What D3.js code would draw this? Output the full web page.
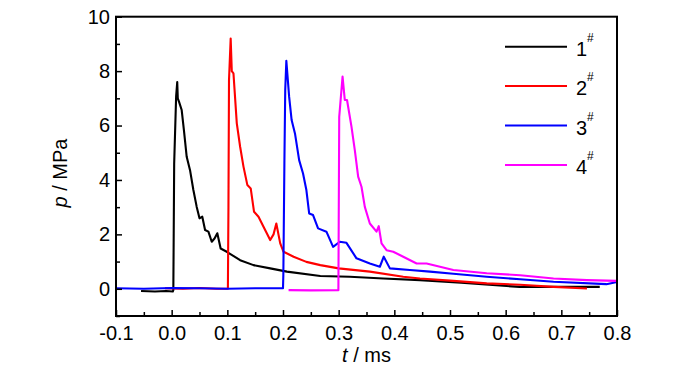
<!DOCTYPE html>
<html>
<head>
<meta charset="utf-8">
<script src="https://cdn.jsdelivr.net/npm/d3@7"></script>
<style>
  body { margin: 0; background: #fff; }
  text { font-family: "Liberation Sans", Arial, sans-serif; fill: #000; }
</style>
</head>
<body>
<div id="chart"></div>
<script>
// data (t in ms, p in MPa)
let t1 = [-0.055, -0.03, -0.01, 0.002, 0.003, 0.0045, 0.008, 0.010, 0.011, 0.0133, 0.018, 0.022, 0.027, 0.033, 0.039, 0.045, 0.050, 0.055, 0.060, 0.066, 0.072, 0.077, 0.082, 0.088, 0.099, 0.123, 0.147, 0.177, 0.207, 0.267, 0.32, 0.38, 0.446, 0.52, 0.625, 0.7, 0.769];
let p1 = [-0.08, -0.1, -0.08, -0.1, -0.05, 4.6, 7.06, 7.6, 7.0, 6.87, 6.57, 5.83, 4.85, 4.36, 3.63, 3.01, 2.59, 2.65, 2.16, 2.1, 1.73, 1.85, 2.04, 1.48, 1.36, 1.05, 0.87, 0.75, 0.63, 0.47, 0.44, 0.38, 0.32, 0.22, 0.07, 0.07, 0.07];

let t2 = [-0.012, 0.02, 0.05, 0.08, 0.101, 0.102, 0.103, 0.106, 0.108, 0.111, 0.117, 0.123, 0.129, 0.136, 0.142, 0.148, 0.156, 0.165, 0.177, 0.183, 0.188, 0.195, 0.201, 0.219, 0.242, 0.267, 0.3, 0.356, 0.416, 0.446, 0.5, 0.566, 0.626, 0.686, 0.746];
let p2 = [0.02, 0, 0.03, 0, 0, 3.0, 7.67, 9.2, 8.0, 7.92, 6.08, 5.22, 4.49, 3.81, 3.69, 2.83, 2.65, 2.28, 1.79, 2.0, 2.4, 1.67, 1.36, 1.18, 0.99, 0.87, 0.75, 0.63, 0.44, 0.38, 0.3, 0.2, 0.15, 0.07, 0.01];

let t3 = [-0.1, -0.05, 0, 0.05, 0.1, 0.15, 0.2, 0.2006, 0.2025, 0.204, 0.206, 0.211, 0.2155, 0.2215, 0.229, 0.236, 0.242, 0.247, 0.254, 0.263, 0.278, 0.29, 0.302, 0.314, 0.332, 0.356, 0.374, 0.381, 0.392, 0.428, 0.464, 0.506, 0.566, 0.626, 0.686, 0.781, 0.8];
let p3 = [0.02, 0, 0.03, 0.02, 0, 0.02, 0.02, 0.5, 4.61, 7.3, 8.38, 7.06, 6.2, 5.71, 4.73, 4.24, 3.63, 2.77, 2.71, 2.22, 2.1, 1.54, 1.73, 1.69, 1.12, 0.93, 0.81, 1.18, 0.75, 0.69, 0.63, 0.55, 0.44, 0.35, 0.26, 0.17, 0.25];

let t4 = [0.21, 0.25, 0.2995, 0.301, 0.307, 0.311, 0.315, 0.323, 0.329, 0.335, 0.341, 0.347, 0.356, 0.368, 0.372, 0.377, 0.386, 0.398, 0.416, 0.44, 0.458, 0.506, 0.566, 0.626, 0.686, 0.746, 0.8];
let p4 = [-0.05, -0.06, -0.05, 6.32, 7.8, 6.94, 6.94, 5.96, 5.1, 4.12, 3.75, 3.01, 2.4, 2.1, 2.3, 1.67, 1.42, 1.36, 1.18, 0.93, 0.93, 0.69, 0.57, 0.5, 0.38, 0.32, 0.29];

let names = ["1", "2", "3", "4"];
let colors = ["#000000", "#ff0000", "#0000ff", "#ff00ff"];
let xTicks = [-0.1, 0.0, 0.1, 0.2, 0.3, 0.4, 0.5, 0.6, 0.7, 0.8];
let yTicks = [0, 2, 4, 6, 8, 10];

let chart_width = 700;
let chart_height = 374;

let svg = d3
  .select("#chart")
  .append("svg")
  .attr("width", chart_width)
  .attr("height", chart_height);

// plot box
let plot_left = 116, plot_right = 617, plot_top = 16.7, plot_bottom = 316;

let x = d3.scaleLinear().domain([-0.1, 0.8]).range([plot_left, plot_right]);
let y = d3.scaleLinear().domain([-1, 10]).range([plot_bottom, plot_top]);

let series = [[t1, p1], [t2, p2], [t3, p3], [t4, p4]].map(function (s, i) {
  return { name: names[i], color: colors[i], pts: s[0].map(function (t, j) { return [t, s[1][j]]; }) };
});

let line = d3.line()
  .x(function (d) { return x(d[0]); })
  .y(function (d) { return y(d[1]); });

svg.append("g")
  .selectAll("path")
  .data(series)
  .enter()
  .append("path")
  .attr("d", function (d) { return line(d.pts); })
  .attr("fill", "none")
  .attr("stroke", function (d) { return d.color; })
  .attr("stroke-width", 2.1)
  .attr("stroke-linejoin", "round");

// axes, ticks point inward
let fmt = function (d) { return d.toFixed(1); }; // plain hyphen for -0.1
let xAxis = d3.axisBottom(x).tickValues(xTicks).tickFormat(fmt).tickSizeInner(-6).tickSizeOuter(0).tickPadding(10);
let xMinor = d3.axisBottom(x).tickValues(xTicks.slice(0, -1).map(function (d) { return d + 0.05; })).tickFormat("").tickSizeInner(-4).tickSizeOuter(0);
let yAxis = d3.axisLeft(y).tickValues(yTicks).tickSizeInner(-6).tickSizeOuter(0).tickPadding(6);
let yMinor = d3.axisLeft(y).tickValues([-1, 1, 3, 5, 7, 9]).tickFormat("").tickSizeInner(-4).tickSizeOuter(0);

function style(g) {
  g.selectAll("line").attr("stroke", "#000").attr("stroke-width", 1.5);
  g.selectAll(".domain").remove();
  g.selectAll("text").style("font-size", "20px").attr("fill", "#000");
}

svg.append("g").attr("transform", "translate(0," + plot_bottom + ")").call(xAxis).call(style);
svg.append("g").attr("transform", "translate(0," + plot_bottom + ")").call(xMinor).call(style);
svg.append("g").attr("transform", "translate(" + plot_left + ",0)").call(yAxis).call(style);
svg.append("g").attr("transform", "translate(" + plot_left + ",0)").call(yMinor).call(style);

svg.append("rect")
  .attr("x", plot_left)
  .attr("y", plot_top)
  .attr("width", plot_right - plot_left)
  .attr("height", plot_bottom - plot_top)
  .attr("fill", "none")
  .attr("stroke", "#000")
  .attr("stroke-width", 2);

// axis titles
let xt = svg.append("text")
  .attr("x", (plot_left + plot_right) / 2)
  .attr("y", 362)
  .attr("text-anchor", "middle")
  .style("font-size", "20px");
xt.append("tspan").style("font-style", "italic").text("t");
xt.append("tspan").text(" / ms");

let yt = svg.append("text")
  .attr("transform", "translate(67,173) rotate(-90)")
  .attr("text-anchor", "middle")
  .style("font-size", "20px");
yt.append("tspan").style("font-style", "italic").text("p");
yt.append("tspan").text(" / MPa");

// legend
let legend = svg.append("g")
  .selectAll("g")
  .data(series)
  .enter()
  .append("g")
  .attr("transform", function (d, i) { return "translate(505," + (46.7 + i * 39.4) + ")"; });

legend.append("line")
  .attr("x1", 0)
  .attr("x2", 62)
  .attr("stroke", function (d) { return d.color; })
  .attr("stroke-width", 2);

legend.append("text")
  .attr("x", 71)
  .attr("y", 9)
  .style("font-size", "20px")
  .text(function (d) { return d.name; });

legend.append("text")
  .attr("x", 82)
  .attr("y", -5)
  .style("font-size", "12px")
  .text("#");
</script>
</body>
</html>
